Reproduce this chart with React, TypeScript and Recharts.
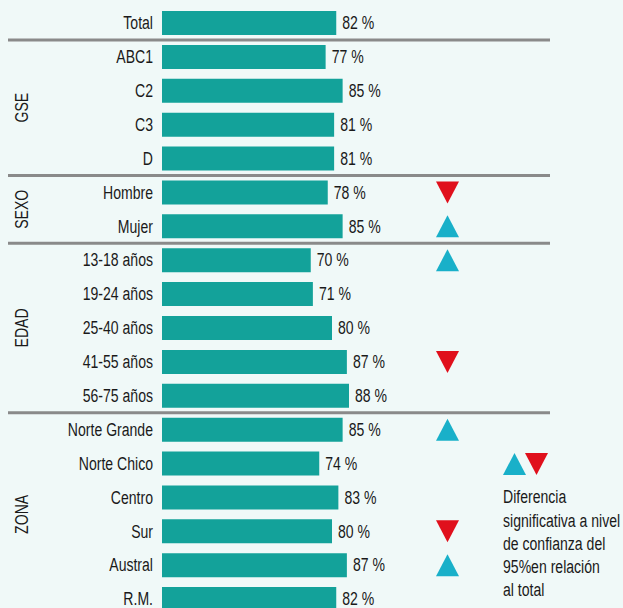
import React from 'react';
import { BarChart, Bar, XAxis, YAxis, LabelList } from 'recharts';

const categories = ['Total', 'ABC1', 'C2', 'C3', 'D', 'Hombre', 'Mujer', '13-18 años', '19-24 años', '25-40 años', '41-55 años', '56-75 años', 'Norte Grande', 'Norte Chico', 'Centro', 'Sur', 'Austral', 'R.M.'];
const values = [82, 77, 85, 81, 81, 78, 85, 70, 71, 80, 87, 88, 85, 74, 83, 80, 87, 82];
const significance = ['', '', '', '', '', 'down', 'up', 'up', '', '', 'down', '', 'up', '', '', 'down', 'up', ''];
const groupNames = ['', 'GSE', 'SEXO', 'EDAD', 'ZONA'];
const groupSizes = [1, 4, 2, 5, 6];
const legendLines = ['Diferencia', 'significativa a nivel', 'de confianza del', '95%en relación', 'al total'];

const data = categories.map((c, i) => ({ cat: c, value: values[i], sig: significance[i] }));

const FONT = '"Liberation Sans", Arial, sans-serif';
const FS = 19;
const SX = 0.74;
const BG = '#f0f9f8';
const BAR = '#13a29a';
const LINE = '#8a8a8a';
const RED = '#e0101c';
const BLUE = '#19b0c9';
const TEXT = '#1a1a1a';
const BAND = 33.9;

const groupStarts: Record<number, { name: string; count: number }> = {};
{
  let s = 0;
  groupNames.forEach((n, gi) => {
    groupStarts[s] = { name: n, count: groupSizes[gi] };
    s += groupSizes[gi];
  });
}

const CText = ({ x, y, rotate = 0, anchor = 'start', children }: any) => (
  <text
    x={0}
    y={0}
    transform={`translate(${x} ${y}) rotate(${rotate}) scale(${SX} 1)`}
    textAnchor={anchor}
    dominantBaseline="central"
    fontFamily={FONT}
    fontSize={FS}
    fill={TEXT}
  >
    {children}
  </text>
);

const Tick = (props: any) => {
  const { y, payload, index } = props;
  const g = groupStarts[index];
  const gy = g ? y + ((g.count - 1) * BAND) / 2 : 0;
  return (
    <g>
      <CText x={153} y={y} anchor="end">{payload.value}</CText>
      {g && index > 0 && (
        <line x1={8} x2={550} y1={y - BAND / 2} y2={y - BAND / 2} stroke={LINE} strokeWidth={3} />
      )}
      {g && g.name && (
        <CText x={22} y={gy} rotate={-90} anchor="middle">{g.name}</CText>
      )}
    </g>
  );
};

const Triangle = ({ cx, cy, dir }: { cx: number; cy: number; dir: string }) => {
  const w = 23, h = 22;
  const pts = dir === 'up'
    ? `${cx - w / 2},${cy + h / 2} ${cx + w / 2},${cy + h / 2} ${cx},${cy - h / 2}`
    : `${cx - w / 2},${cy - h / 2} ${cx + w / 2},${cy - h / 2} ${cx},${cy + h / 2}`;
  return <polygon points={pts} fill={dir === 'up' ? BLUE : RED} />;
};

const ValueLabel = (props: any) => {
  const { x, y, width, height, value } = props;
  return <CText x={x + width + 6} y={y + height / 2}>{`${value} %`}</CText>;
};

const SigLabel = (props: any) => {
  const { y, height, value } = props;
  if (!value) return null;
  return <Triangle cx={447.5} cy={y + height / 2} dir={value} />;
};

export default function App() {
  return (
    <div style={{ position: 'absolute', left: 0, top: 0, width: 623, height: 608, overflow: 'hidden', background: BG }}>
      <BarChart
        width={623}
        height={616}
        data={data}
        layout="vertical"
        margin={{ top: 6, right: 248.5, left: 0, bottom: 0 }}
        barSize={24}
      >
        <XAxis type="number" domain={[0, 100]} hide />
        <YAxis type="category" dataKey="cat" width={162} axisLine={false} tickLine={false} interval={0} tick={<Tick />} />
        <Bar dataKey="value" fill={BAR} isAnimationActive={false}>
          <LabelList dataKey="value" content={<ValueLabel />} />
          <LabelList dataKey="sig" content={<SigLabel />} />
        </Bar>
      </BarChart>
      <svg style={{ position: 'absolute', left: 0, top: 0 }} width={623} height={608}>
        <Triangle cx={514.5} cy={464} dir="up" />
        <Triangle cx={536.5} cy={464} dir="down" />
        {legendLines.map((l, i) => (
          <CText key={i} x={503} y={497 + i * 23.3}>{l}</CText>
        ))}
      </svg>
    </div>
  );
}
